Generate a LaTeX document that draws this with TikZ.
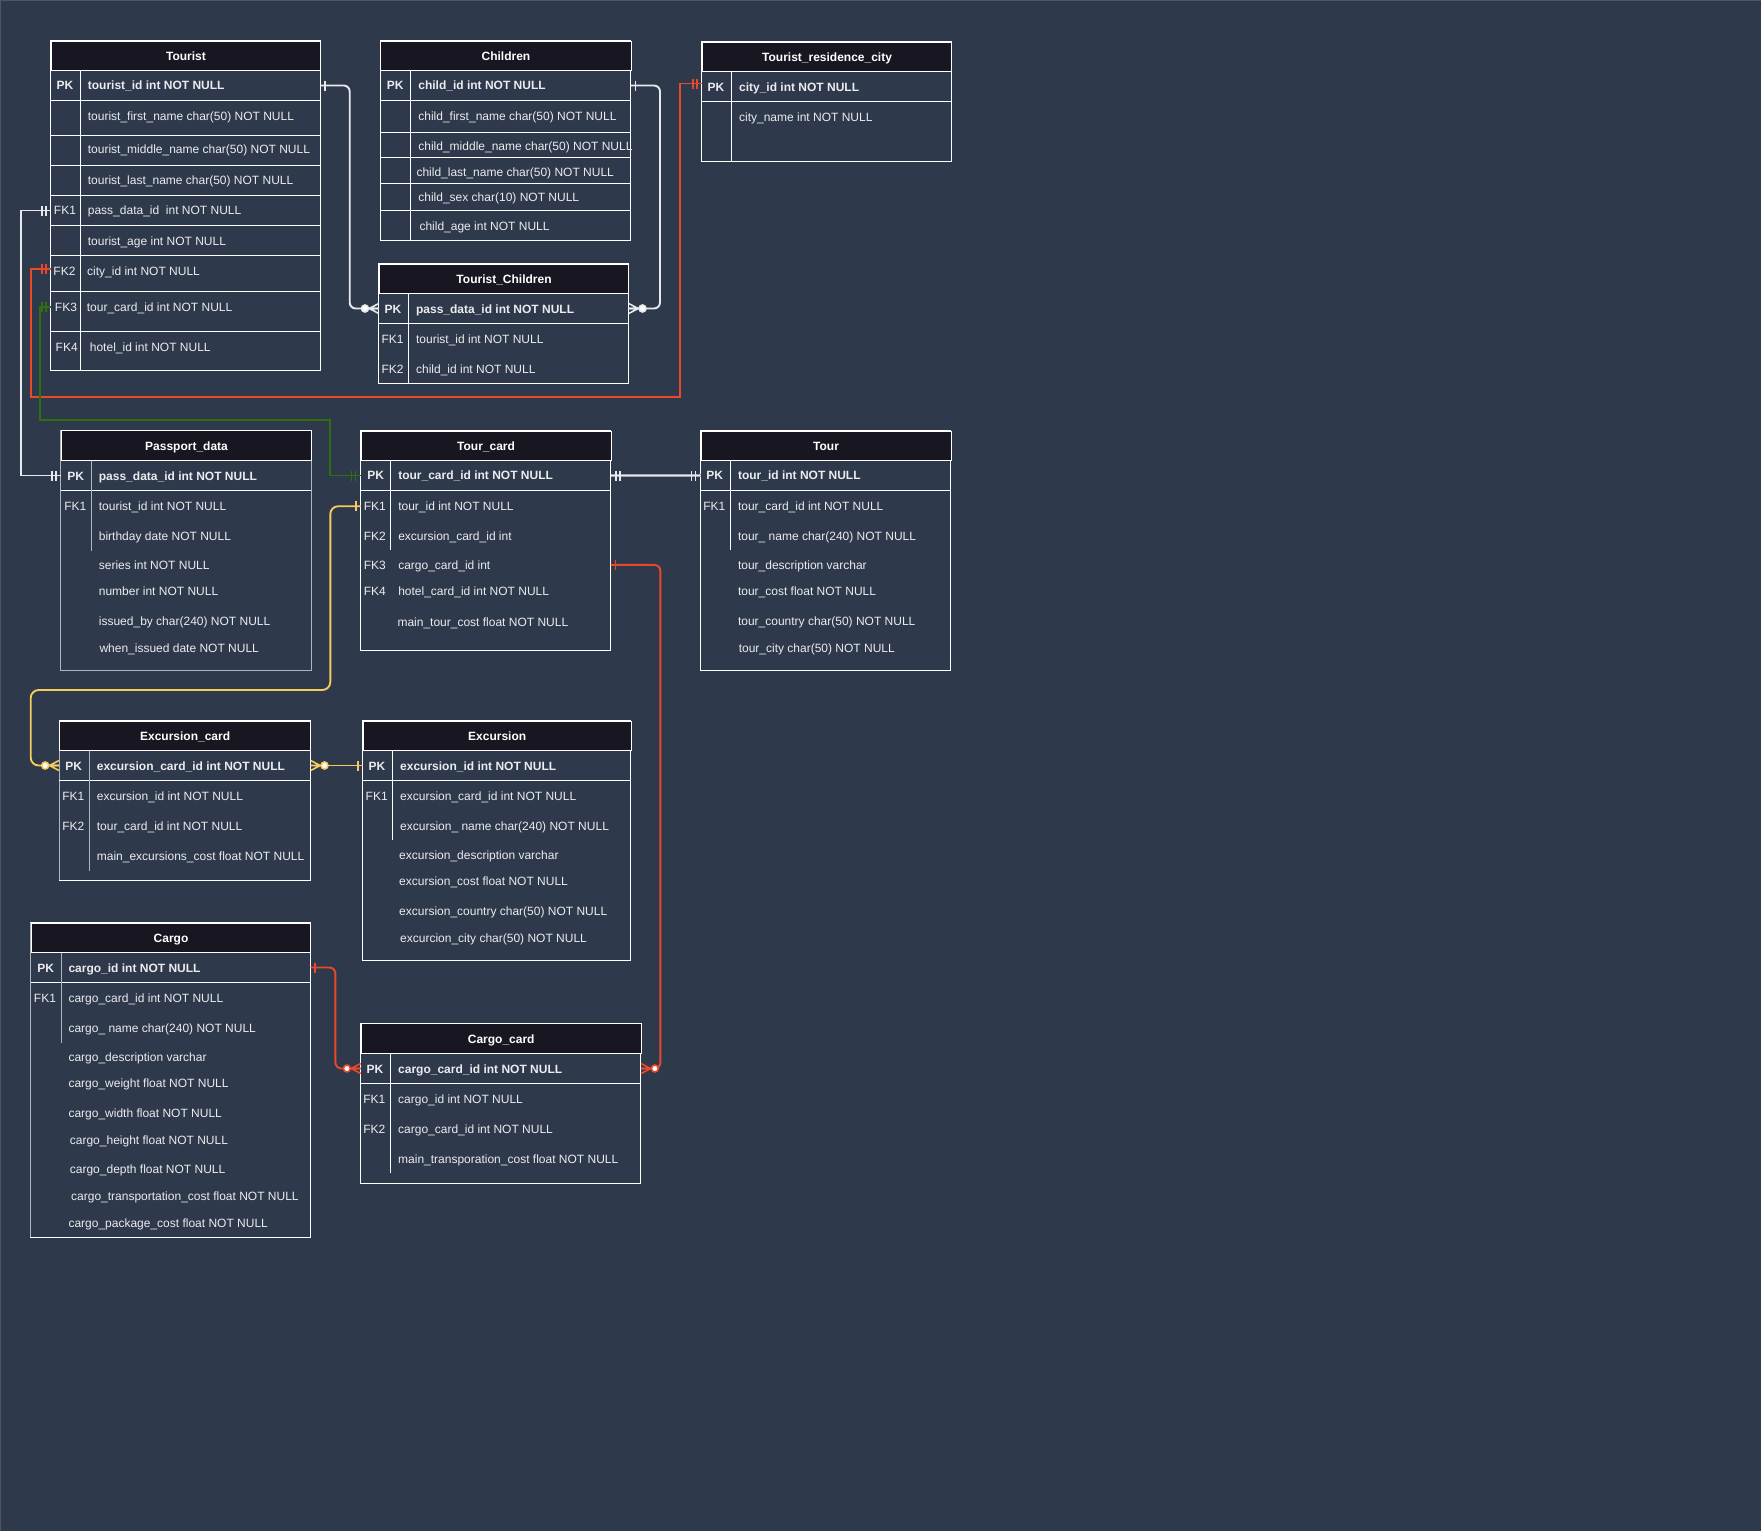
\documentclass[tikz,border=0pt]{standalone}
\usepackage{fontspec}
\setmainfont{Liberation Sans}
\usetikzlibrary{calc}

\definecolor{bg}{RGB}{46,57,75}
\definecolor{edgeline}{RGB}{78,86,100}
\definecolor{hdrfill}{RGB}{24,22,32}
\definecolor{txt}{RGB}{236,236,238}
\definecolor{boxgray}{RGB}{176,180,188}
\definecolor{erwhite}{RGB}{232,233,236}
\definecolor{erred}{RGB}{233,72,42}
\definecolor{ergreen}{RGB}{47,112,14}
\definecolor{eryellow}{RGB}{246,202,92}
\definecolor{dblgray}{RGB}{160,165,175}

\tikzset{
  tbl/.style={draw=white, line width=1pt},
  tblgray/.style={draw=boxgray, line width=1pt},
  hdr/.style={draw=white, line width=1pt, fill=hdrfill, text=white, inner sep=0pt,
    anchor=north west, text height=8.6pt, text depth=0pt,
    font=\fontsize{12pt}{14pt}\selectfont\bfseries},
  fld/.style={text=txt, anchor=west, inner sep=0pt, text height=8.6pt, text depth=0pt,
    font=\fontsize{12pt}{14pt}\selectfont},
  fldb/.style={fld, font=\fontsize{12pt}{14pt}\selectfont\bfseries},
  keyl/.style={text=txt, inner sep=0pt, text height=8.6pt, text depth=0pt,
    font=\fontsize{12pt}{14pt}\selectfont},
  keyb/.style={keyl, font=\fontsize{12pt}{14pt}\selectfont\bfseries},
  rowbox/.style={inner sep=0pt, anchor=north west, draw=none},
  conn/.style={line width=1.9pt},
  mk/.style={line width=1.6pt},
  pics/erone/.style={code={\draw (4.5,-5) -- (4.5,5);}},
  pics/ertwo/.style={code={\draw (5,-5) -- (5,5) (9,-5) -- (9,5);}},
  pics/ermany/.style={code={
      \draw (0,-5) -- (9.5,0) -- (0,5) (0,0) -- (9.5,0);
      \draw[fill=white] (13.8,0) circle (3.5);}},
}

% invisible row node used as a connector end: name, left x, top y, width, height
\newcommand\ERrow[5]{\node[rowbox, minimum width=#4pt, minimum height=#5pt] (#1) at (#2,#3) {};}

\begin{document}
\begin{tikzpicture}[x=1pt, y=-1pt]
\useasboundingbox (0,0) rectangle (1761,1531);
\fill[bg] (0,0) rectangle (1761,1531);
\draw[edgeline, line width=1pt] (0.5,1531) -- (0.5,0.5) -- (1761,0.5);

% ---------------- Tourist ----------------
\draw[tbl] (50.7,40.7) rectangle (320.3,370);
\foreach \yy in {100.3,135.3,165.3,195.3,225.3,255.3,291.3,331.3}
  \draw[tbl] (50.7,\yy) -- (320.3,\yy);
\draw[tbl] (80.3,70.3) -- (80.3,370);
\node[hdr, minimum width=269.6pt, minimum height=29.6pt] (tourist) at (50.7,40.7) {Tourist};
\node[keyb] at (65,85.3) {PK};
\node[fldb] at (87.7,85.3) {tourist\_id int NOT NULL};
\node[fld] at (87.7,115.7) {tourist\_first\_name char(50) NOT NULL};
\node[fld] at (87.7,149.3) {tourist\_middle\_name char(50) NOT NULL};
\node[fld] at (87.7,179.7) {tourist\_last\_name char(50) NOT NULL};
\node[keyl] at (65,210) {FK1};
\node[fld] at (87.7,210) {pass\_data\_id~ int NOT NULL};
\node[fld] at (87.7,240.7) {tourist\_age int NOT NULL};
\node[keyl] at (64.5,271.3) {FK2};
\node[fld] at (87,271.3) {city\_id int NOT NULL};
\node[keyl] at (66,306.7) {FK3};
\node[fld] at (86.7,306.7) {tour\_card\_id int NOT NULL};
\node[keyl] at (66.7,346.7) {FK4};
\node[fld] at (89.7,346.7) {hotel\_id int NOT NULL};
\ERrow{tourist-pk}{50.7}{70.3}{269.6}{30}
\ERrow{tourist-fk1}{50.7}{195.3}{269.6}{30}
\ERrow{tourist-fk2}{50.7}{255.3}{269.6}{36}
\ERrow{tourist-fk3}{50.7}{291.3}{269.6}{40}

% ---------------- Children ----------------
\draw[tbl] (380.3,40.7) rectangle (630.6,240.3);
\foreach \yy in {100.3,132.3,157.3,183.7,210.7}
  \draw[tbl] (380.3,\yy) -- (630.6,\yy);
\draw[tbl] (410.5,70.3) -- (410.5,240.3);
\node[hdr, minimum width=250.3pt, minimum height=29.6pt] (children) at (380.3,40.7) {Children};
\node[keyb] at (395.2,85.3) {PK};
\node[fldb] at (418.2,85.3) {child\_id int NOT NULL};
\node[fld] at (418.2,115.7) {child\_first\_name char(50) NOT NULL};
\node[fld] at (418.2,145.7) {child\_middle\_name char(50) NOT NULL};
\node[fld] at (416.3,171.7) {child\_last\_name char(50) NOT NULL};
\node[fld] at (418.2,196.7) {child\_sex char(10) NOT NULL};
\node[fld] at (419.3,225.7) {child\_age int NOT NULL};
\ERrow{ch-pk}{380.3}{70.3}{250.3}{30}

% ---------------- Tourist_residence_city ----------------
\draw[tbl] (701.8,41.7) rectangle (951.3,161);
\draw[tbl] (701.8,101.3) -- (951.3,101.3);
\draw[tbl] (731.6,71.3) -- (731.6,161);
\node[hdr, minimum width=249.5pt, minimum height=29.6pt] (city) at (701.8,41.7) {Tourist\_residence\_city};
\node[keyb] at (715.9,86.7) {PK};
\node[fldb] at (738.9,86.7) {city\_id int NOT NULL};
\node[fld] at (738.9,116.7) {city\_name int NOT NULL};
\ERrow{city-pk}{701.8}{71.3}{249.5}{30}

% ---------------- Tourist_Children ----------------
\draw[tbl] (378.8,263.7) rectangle (628.3,383);
\draw[tbl] (378.8,323.3) -- (628.3,323.3);
\draw[tbl] (408.2,293.3) -- (408.2,383);
\node[hdr, minimum width=249.5pt, minimum height=29.6pt] (tchildren) at (378.8,263.7) {Tourist\_Children};
\node[keyb] at (392.9,308.7) {PK};
\node[fldb] at (415.9,308.7) {pass\_data\_id int NOT NULL};
\node[keyl] at (392.5,338.7) {FK1};
\node[fld] at (415.9,338.7) {tourist\_id int NOT NULL};
\node[keyl] at (392.5,368.7) {FK2};
\node[fld] at (415.9,368.7) {child\_id int NOT NULL};
\ERrow{tc-pk}{378.8}{293.3}{249.5}{30}

% ---------------- Passport_data ----------------
\draw[tblgray] (60.7,430.3) rectangle (311.3,670.3);
\draw[tbl] (60.7,490.3) -- (311.3,490.3);
\draw[tblgray] (91,460.3) -- (91,550.7);
\node[hdr, minimum width=250.6pt, minimum height=30pt] (passport) at (60.7,430.3) {Passport\_data};
\node[keyb] at (75.7,475.7) {PK};
\node[fldb] at (98.7,475.7) {pass\_data\_id int NOT NULL};
\node[keyl] at (75.3,505.7) {FK1};
\node[fld] at (98.7,505.7) {tourist\_id int NOT NULL};
\node[fld] at (98.7,535.7) {birthday date NOT NULL};
\node[fld] at (98.7,564.7) {series int NOT NULL};
\node[fld] at (98.7,590.7) {number int NOT NULL};
\node[fld] at (98.7,620.7) {issued\_by char(240) NOT NULL};
\node[fld] at (99.3,647.7) {when\_issued date NOT NULL};
\ERrow{pp-pk}{60.7}{460.3}{250.6}{30}

% ---------------- Tour_card ----------------
\draw[tbl] (360.6,430.7) rectangle (610.5,650);
\draw[tbl] (360.6,490.3) -- (610.5,490.3);
\draw[tbl] (390.6,460.3) -- (390.6,549.7);
\node[hdr, minimum width=249.9pt, minimum height=29.6pt] (tourcard) at (360.6,430.7) {Tour\_card};
\node[keyb] at (375.6,475.3) {PK};
\node[fldb] at (398.1,475.3) {tour\_card\_id int NOT NULL};
\node[keyl] at (374.8,506) {FK1};
\node[fld] at (398.1,506) {tour\_id int NOT NULL};
\node[keyl] at (374.8,535.7) {FK2};
\node[fld] at (398.1,535.7) {excursion\_card\_id int};
\node[keyl] at (374.8,564.7) {FK3};
\node[fld] at (398.1,564.7) {cargo\_card\_id int};
\node[keyl] at (374.8,590.7) {FK4};
\node[fld] at (398.1,590.7) {hotel\_card\_id int NOT NULL};
\node[fld] at (397.3,621.7) {main\_tour\_cost float NOT NULL};
\ERrow{tcard-pk}{360.6}{460.3}{249.9}{30}
\ERrow{tcard-fk1}{360.6}{491}{249.9}{30}
\ERrow{tcard-fk3}{360.6}{549.7}{249.9}{30}

% ---------------- Tour ----------------
\draw[tbl] (700.6,430.7) rectangle (950.5,670);
\draw[tbl] (700.6,490.3) -- (950.5,490.3);
\draw[tbl] (730.7,460.3) -- (730.7,550);
\node[hdr, minimum width=249.9pt, minimum height=29.6pt] (tour) at (700.6,430.7) {Tour};
\node[keyb] at (714.8,475.3) {PK};
\node[fldb] at (737.8,475.3) {tour\_id int NOT NULL};
\node[keyl] at (714.3,506) {FK1};
\node[fld] at (737.8,506) {tour\_card\_id int NOT NULL};
\node[fld] at (737.8,535.7) {tour\_ name char(240) NOT NULL};
\node[fld] at (737.8,564.7) {tour\_description varchar};
\node[fld] at (737.8,590.7) {tour\_cost float NOT NULL};
\node[fld] at (737.8,620.7) {tour\_country char(50) NOT NULL};
\node[fld] at (738.6,648) {tour\_city char(50) NOT NULL};
\ERrow{tour-pk}{700.6}{460.3}{249.9}{30}

% ---------------- Excursion_card ----------------
\draw[tbl] (59,720.7) rectangle (310.3,880.3);
\draw[tblgray] (59,720.7) -- (59,880.3);
\draw[tbl] (59,780.3) -- (310.3,780.3);
\draw[tblgray] (89.3,750.3) -- (89.3,870.7);
\node[hdr, minimum width=251.3pt, minimum height=29.6pt] (exccard) at (59,720.7) {Excursion\_card};
\node[keyb] at (73.7,765.7) {PK};
\node[fldb] at (96.7,765.7) {excursion\_card\_id int NOT NULL};
\node[keyl] at (73.3,796) {FK1};
\node[fld] at (96.7,796) {excursion\_id int NOT NULL};
\node[keyl] at (73.3,826) {FK2};
\node[fld] at (96.7,826) {tour\_card\_id int NOT NULL};
\node[fld] at (96.7,855.7) {main\_excursions\_cost float NOT NULL};
\ERrow{ec-pk}{59}{750.3}{251.3}{30}

% ---------------- Excursion ----------------
\draw[tbl] (362.7,720.7) rectangle (630.7,960);
\draw[tbl] (362.7,780.3) -- (630.7,780.3);
\draw[tbl] (392.7,750.3) -- (392.7,840.3);
\node[hdr, minimum width=268pt, minimum height=29.6pt] (excursion) at (362.7,720.7) {Excursion};
\node[keyb] at (377,765.7) {PK};
\node[fldb] at (400,765.7) {excursion\_id int NOT NULL};
\node[keyl] at (376.7,796) {FK1};
\node[fld] at (400,796) {excursion\_card\_id int NOT NULL};
\node[fld] at (400,826) {excursion\_ name char(240) NOT NULL};
\node[fld] at (399,855) {excursion\_description varchar};
\node[fld] at (399,880.7) {excursion\_cost float NOT NULL};
\node[fld] at (399,910.7) {excursion\_country char(50) NOT NULL};
\node[fld] at (400,937.7) {excurcion\_city char(50) NOT NULL};
\ERrow{ex-pk}{362.7}{750.3}{268}{30}

% ---------------- Cargo ----------------
\draw[tbl] (30.7,922.7) rectangle (310.3,1237.3);
\draw[tblgray] (30.7,922.7) -- (30.7,1237.3);
\draw[tbl] (30.7,982.3) -- (310.3,982.3);
\draw[tblgray] (61,952.3) -- (61,1042.7);
\node[hdr, minimum width=279.6pt, minimum height=29.6pt] (cargo) at (30.7,922.7) {Cargo};
\node[keyb] at (45.7,967.7) {PK};
\node[fldb] at (68.3,967.7) {cargo\_id int NOT NULL};
\node[keyl] at (45,997.7) {FK1};
\node[fld] at (68.3,997.7) {cargo\_card\_id int NOT NULL};
\node[fld] at (68.3,1027.7) {cargo\_ name char(240) NOT NULL};
\node[fld] at (68.3,1056.7) {cargo\_description varchar};
\node[fld] at (68.3,1082.7) {cargo\_weight float NOT NULL};
\node[fld] at (68.3,1112.7) {cargo\_width float NOT NULL};
\node[fld] at (69.7,1139.7) {cargo\_height float NOT NULL};
\node[fld] at (69.7,1169.3) {cargo\_depth float NOT NULL};
\node[fld] at (71,1196.3) {cargo\_transportation\_cost float NOT NULL};
\node[fld] at (68.3,1222.7) {cargo\_package\_cost float NOT NULL};
\ERrow{cargo-pk}{30.7}{952.3}{279.6}{30}

% ---------------- Cargo_card ----------------
\draw[tbl] (360.7,1023.3) rectangle (640.7,1183.3);
\draw[tbl] (360.7,1083.3) -- (640.7,1083.3);
\draw[tbl] (390.3,1053.3) -- (390.3,1173.3);
\node[hdr, minimum width=280pt, minimum height=30pt] (cargocard) at (360.7,1023.3) {Cargo\_card};
\node[keyb] at (375,1069) {PK};
\node[fldb] at (398,1069) {cargo\_card\_id int NOT NULL};
\node[keyl] at (374.3,1099) {FK1};
\node[fld] at (398,1099) {cargo\_id int NOT NULL};
\node[keyl] at (374.3,1129) {FK2};
\node[fld] at (398,1129) {cargo\_card\_id int NOT NULL};
\node[fld] at (398,1158.7) {main\_transporation\_cost float NOT NULL};
\ERrow{cc-pk}{360.7}{1053.3}{280}{30}

% ================= relations =================
% Tourist -> Tourist_Children
\draw[conn, erwhite, rounded corners=6pt] (tourist-pk.east) -- ++(29,0) |- (tc-pk.west);
\pic[mk, erwhite] at (tourist-pk.east) {erone};
\pic[mk, erwhite, rotate=180] at (tc-pk.west) {ermany};

% Children -> Tourist_Children
\draw[conn, erwhite, rounded corners=6pt] (ch-pk.east) -- ++(29,0) |- (tc-pk.east);
\pic[mk, erwhite] at (ch-pk.east) {erone};
\pic[mk, erwhite] at (tc-pk.east) {ermany};

% Tourist.city_id -> Tourist_residence_city
\draw[conn, erred] ([yshift=4.5pt]tourist-fk2.west) -| (30.7,396.7) -| (680,200) |- ([yshift=3pt]city-pk.west);
\pic[mk, erred, rotate=180] at ([yshift=4.5pt]tourist-fk2.west) {ertwo};
\pic[mk, erred, rotate=180] at ([yshift=3pt]city-pk.west) {ertwo};

% Tourist.pass_data_id -> Passport_data
\draw[conn, erwhite] (tourist-fk1.west) -| (20.7,400) |- (pp-pk.west);
\pic[mk, erwhite, rotate=180] at (tourist-fk1.west) {ertwo};
\pic[mk, erwhite, rotate=180] at (pp-pk.west) {ertwo};

% Tourist.tour_card_id -> Tour_card
\draw[conn, ergreen] ([yshift=4.5pt]tourist-fk3.west) -| (40.3,420) -| (330.3,450) |- (tcard-pk.west);
\pic[mk, ergreen, rotate=180] at ([yshift=4.5pt]tourist-fk3.west) {ertwo};
\pic[mk, ergreen, rotate=180] at (tcard-pk.west) {ertwo};

% Tour_card.tour_id -> Excursion_card
\draw[conn, eryellow, rounded corners=8pt] (tcard-fk1.west) -| (330.3,690) -| (30.7,720) |- (ec-pk.west);
\pic[mk, eryellow, rotate=180] at (tcard-fk1.west) {erone};
\pic[mk, eryellow, rotate=180] at (ec-pk.west) {ermany};

% Excursion_card -> Excursion
\draw[conn, eryellow] (ec-pk.east) -- (ex-pk.west);
\pic[mk, eryellow] at (ec-pk.east) {ermany};
\pic[mk, eryellow, rotate=180] at (ex-pk.west) {erone};

% Tour_card -> Tour
\draw[dblgray, line width=3.6pt] (tcard-pk.east) -- (tour-pk.west);
\draw[erwhite, line width=1.3pt] (tcard-pk.east) -- (tour-pk.west);
\pic[mk, erwhite] at (tcard-pk.east) {ertwo};
\pic[mk, erwhite, rotate=180] at (tour-pk.west) {ertwo};

% Tour_card.cargo_card_id -> Cargo_card
\draw[conn, erred, rounded corners=6pt] (tcard-fk3.east) -- ++(49.5,0) |- (cc-pk.east);
\pic[mk, erred] at (tcard-fk3.east) {erone};
\pic[mk, erred] at (cc-pk.east) {ermany};

% Cargo -> Cargo_card
\draw[conn, erred, rounded corners=6pt] (cargo-pk.east) -- ++(24.7,0) |- (cc-pk.west);
\pic[mk, erred] at (cargo-pk.east) {erone};
\pic[mk, erred, rotate=180] at (cc-pk.west) {ermany};
\end{tikzpicture}
\end{document}
